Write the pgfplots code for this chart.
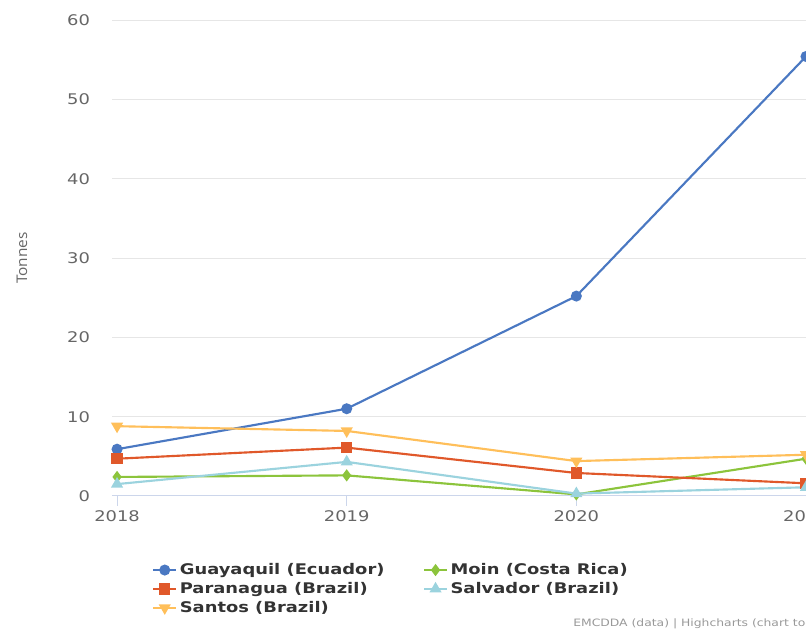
\documentclass[border=0pt]{standalone}
\usepackage{fontspec}
\setmainfont[FakeStretch=1.22]{DejaVu Sans}
\newfontfamily\opensans[FakeStretch=1.05]{Open Sans}
\usepackage{pgfplots}
\pgfplotsset{compat=1.18}
\definecolor{cGuay}{HTML}{4A78C2}
\definecolor{cPara}{HTML}{E0582A}
\definecolor{cSant}{HTML}{FFBF5A}
\definecolor{cMoin}{HTML}{8CC43C}
\definecolor{cSalv}{HTML}{9BD3DE}
\definecolor{gridc}{HTML}{E6E6E6}
\definecolor{axisc}{HTML}{CCD6EB}
\definecolor{tickc}{HTML}{666666}
\definecolor{legc}{HTML}{333333}
\definecolor{credc}{HTML}{999999}
\begin{document}
\begin{tikzpicture}
\useasboundingbox (0,0) rectangle (604.5pt,473.25pt);
\begin{axis}[
  at={(84pt,101.25pt)}, anchor=south west,
  scale only axis, width=520.5pt, height=357pt,
  xmin=2017.978, xmax=2021, ymin=0, ymax=60,
  xtick={2018,2019,2020,2021},
  ytick={0,10,...,60},
  xtick pos=bottom,
  /pgf/number format/.cd, 1000 sep={}, assume math mode=true, /pgfplots/.cd,
  axis line style={draw=none},
  ymajorgrids, grid style={gridc, line width=0.75pt},
  tick align=outside, major tick length=7.5pt,
  xtick style={axisc, line width=0.75pt},
  ytick style={draw=none},
  tick label style={font=\fontsize{11}{13}\selectfont, text=tickc},
  y tick label style={anchor=east, xshift=-5.5pt},
  ylabel={\opensans Tonnes},
  ylabel style={at={(axis description cs:-0.1297,0.5)}, anchor=center, font=\fontsize{11}{13}\selectfont, text=tickc},
  legend columns=2,
  legend style={draw=none, fill=none, at={(axis description cs:0.052,-0.13)}, anchor=north west,
    font=\bfseries\fontsize{11}{13}\selectfont, text=legc, row sep=0.3pt,
    /tikz/every even column/.append style={column sep=27pt}},
  legend cell align=left,
  legend image code/.code={\draw[#1, mark repeat=2, mark phase=2] plot coordinates {(0pt,0pt) (8.5pt,0pt) (17pt,0pt)};},
  every axis plot/.append style={line width=1.6pt},
]
\addplot[cGuay, mark=*, mark size=3.3pt, mark options={solid}] coordinates {(2018,5.9) (2019,11.0) (2020,25.2) (2021,55.4)};
\addlegendentry{Guayaquil (Ecuador)}
\addplot[cMoin, mark=diamond*, mark size=3.3pt] coordinates {(2018,2.4) (2019,2.6) (2020,0.2) (2021,4.7)};
\addlegendentry{Moin (Costa Rica)}
\addplot[cPara, mark=square*, mark size=3.5pt] coordinates {(2018,4.7) (2019,6.1) (2020,2.9) (2021,1.6)};
\addlegendentry{Paranagua (Brazil)}
\addplot[cSalv, mark=triangle*, mark size=3.7pt] coordinates {(2018,1.5) (2019,4.3) (2020,0.3) (2021,1.1)};
\addlegendentry{Salvador (Brazil)}
\addplot[cSant, mark=triangle*, mark size=3.7pt, mark options={rotate=180}] coordinates {(2018,8.8) (2019,8.2) (2020,4.4) (2021,5.2)};
\addlegendentry{Santos (Brazil)}
\draw[axisc, line width=0.75pt] (rel axis cs:0,0) -- (rel axis cs:1,0);
\end{axis}
\node[anchor=base west, inner sep=0pt, text=credc, font=\fontsize{7.6}{9}\selectfont] at (429.75pt,3pt) {EMCDDA (data) | Highcharts (chart tool)};
\end{tikzpicture}
\end{document}
